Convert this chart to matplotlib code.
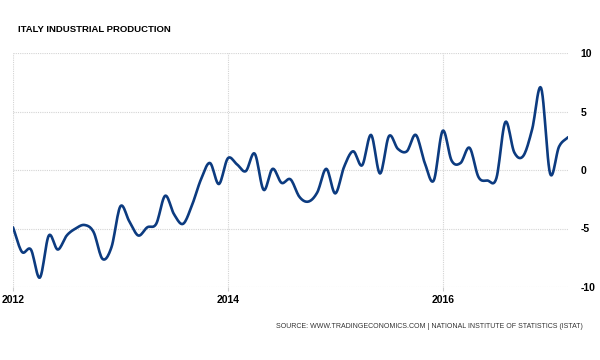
import numpy as np
import matplotlib
matplotlib.use("Agg")
import matplotlib.pyplot as plt

# Italy industrial production, YoY %, monthly from Jan 2012 to Mar 2017
start_year = 2012
values = [
    -4.9, -7.0, -6.8, -9.2, -5.6, -6.8, -5.6, -5.0, -4.7, -5.3, -7.6, -6.6,   # 2012
    -3.1, -4.4, -5.6, -4.9, -4.6, -2.2, -3.8, -4.6, -3.0, -0.8, 0.6, -1.2,    # 2013
    1.0, 0.5, -0.1, 1.4, -1.7, 0.1, -1.1, -0.8, -2.3, -2.7, -1.9, 0.1,        # 2014
    -2.0, 0.3, 1.6, 0.4, 3.0, -0.3, 2.9, 1.8, 1.6, 3.0, 0.6, -0.9,            # 2015
    3.35, 0.8, 0.6, 1.9, -0.6, -0.9, -0.7, 4.1, 1.5, 1.2, 3.5, 7.0,           # 2016
    -0.3, 2.0, 2.8,                                                          # 2017
]
year_ticks = [2012, 2014, 2016]
value_ticks = [-10, -5, 0, 5, 10]
title = "ITALY INDUSTRIAL PRODUCTION"
source = "SOURCE: WWW.TRADINGECONOMICS.COM | NATIONAL INSTITUTE OF STATISTICS (ISTAT)"

font = ["Liberation Sans", "DejaVu Sans"]


def smooth(x, y, n=12):
    # catmull-rom style cubic hermite, like the web chart spline
    x = np.asarray(x, float)
    y = np.asarray(y, float)
    m = np.gradient(y, x)
    xs, ys = [], []
    for i in range(len(x) - 1):
        h = x[i + 1] - x[i]
        t = np.linspace(0, 1, n, endpoint=False)
        h00 = 2 * t**3 - 3 * t**2 + 1
        h10 = t**3 - 2 * t**2 + t
        h01 = -2 * t**3 + 3 * t**2
        h11 = t**3 - t**2
        xs.append(x[i] + t * h)
        ys.append(h00 * y[i] + h10 * h * m[i] + h01 * y[i + 1] + h11 * h * m[i + 1])
    xs.append([x[-1]])
    ys.append([y[-1]])
    return np.concatenate(xs), np.concatenate(ys)


x = start_year + np.arange(len(values)) / 12.0
xs, ys = smooth(x, values)

fig = plt.figure(figsize=(6, 3.6), dpi=100)
ax = fig.add_axes([13 / 600, 1 - 287 / 360, (568 - 13) / 600, (287 - 53) / 360])

ax.plot(xs, ys, color="#0c3b80", lw=1.9, solid_capstyle="round")

ax.set_xlim(x[0], x[-1])
ax.set_ylim(-10, 10)
ax.set_xticks(year_ticks)
ax.set_xticklabels([str(yr) for yr in year_ticks], fontsize=7.5, fontweight="bold", family=font)
ax.set_yticks(value_ticks)
ax.set_yticklabels([str(v) for v in value_ticks], fontsize=7.5, fontweight="bold", family=font)
ax.yaxis.tick_right()
ax.tick_params(axis="y", length=0, pad=9)
ax.tick_params(axis="x", length=3, pad=3, color="#cccccc")

for s in ax.spines.values():
    s.set_visible(False)
ax.grid(True, color="#d4d4d4", linestyle=(0, (1, 1)), linewidth=0.8)
ax.set_axisbelow(True)

fig.text(18 / 600, 1 - 30 / 360, title, fontsize=6.8, fontweight="bold",
         family=font, va="center", ha="left")
fig.text(583 / 600, 1 - 327 / 360, source, fontsize=5.0,
         family=font, va="center", ha="right", color="#333333")

fig.savefig("out.png", dpi=100, facecolor="white")
